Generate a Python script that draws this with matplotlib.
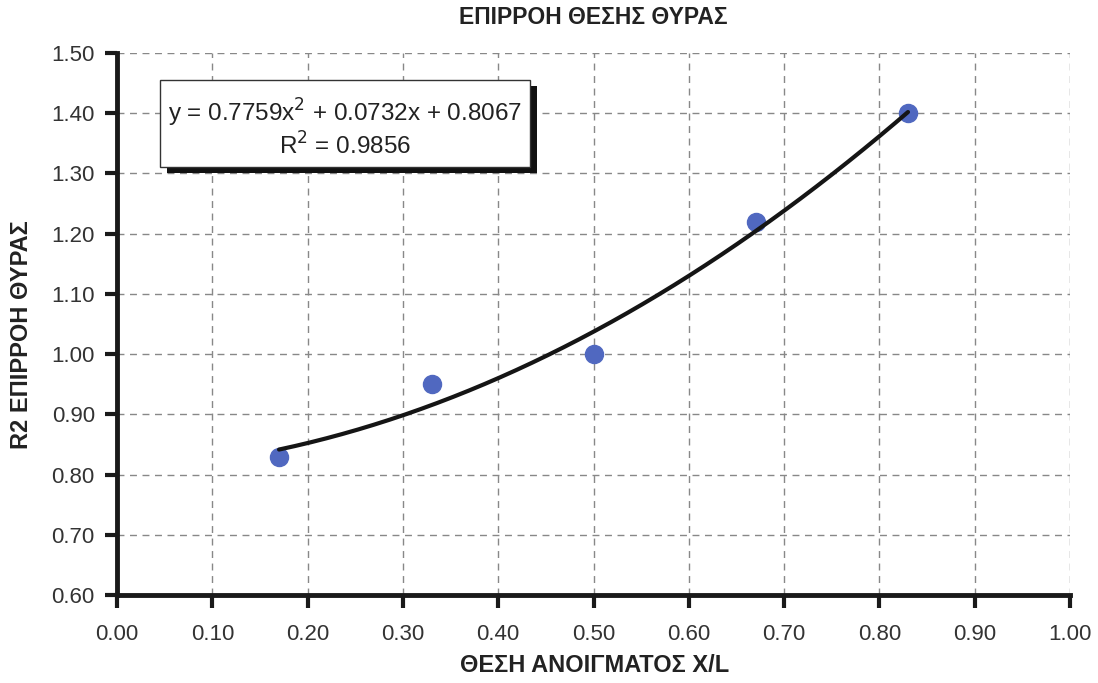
import numpy as np
import matplotlib
matplotlib.use("Agg")
import matplotlib.pyplot as plt
from matplotlib.patches import Rectangle

plt.rcParams['font.family'] = ['Liberation Sans', 'DejaVu Sans']

# Measured points
x_pos = [0.17, 0.33, 0.50, 0.67, 0.83]
r2_vals = [0.83, 0.95, 1.00, 1.22, 1.40]

# Quadratic trend coefficients (a, b, c)
coef = [0.7759, 0.0732, 0.8067]
r_squared = 0.9856

x_ticks = [0.0, 0.1, 0.2, 0.3, 0.4, 0.5, 0.6, 0.7, 0.8, 0.9, 1.0]
y_ticks = [0.6, 0.7, 0.8, 0.9, 1.0, 1.1, 1.2, 1.3, 1.4, 1.5]

title = "ΕΠΙΡΡΟΗ ΘΕΣΗΣ ΘΥΡΑΣ"
xlabel = "ΘΕΣΗ ΑΝΟΙΓΜΑΤΟΣ X/L"
ylabel = "R2 ΕΠΙΡΡΟΗ ΘΥΡΑΣ"

fig = plt.figure(figsize=(10.98, 6.83), dpi=100)
ax = fig.add_axes([0.1066, 0.1288, 0.8679, 0.7936])

ax.set_xlim(0, 1)
ax.set_ylim(0.6, 1.5)
ax.set_xticks(x_ticks)
ax.set_yticks(y_ticks)
ax.set_xticklabels([f"{v:.2f}" for v in x_ticks])
ax.set_yticklabels([f"{v:.2f}" for v in y_ticks])
ax.tick_params(axis='both', labelsize=16, length=9, width=3, direction='out',
               color='#1a1a1a', labelcolor='#333333')
ax.tick_params(axis='x', pad=12)
ax.tick_params(axis='y', pad=7)

ax.grid(True, linestyle=(0, (5, 4)), color='#888888', linewidth=1.0)
ax.set_axisbelow(True)
for s in ['top', 'right']:
    ax.spines[s].set_visible(False)
for s in ['left', 'bottom']:
    ax.spines[s].set_linewidth(3.5)
    ax.spines[s].set_color('#1a1a1a')

# data points
ax.plot(x_pos, r2_vals, 'o', color='#5068c0', markersize=13, zorder=3, clip_on=False)

# trend line
xf = np.linspace(min(x_pos), max(x_pos), 200)
yf = np.polyval(coef, xf)
ax.plot(xf, yf, color='#151515', linewidth=3, zorder=4, solid_capstyle='round')

# equation box with shadow
bx0, by0, bw, bh = 160, 683 - 167, 370, 87
to_fig = lambda px, py: (px / 1098, py / 683)
shadow = Rectangle(to_fig(bx0 + 7, by0 - 6), bw / 1098, bh / 683,
                   transform=fig.transFigure, facecolor='#111111', edgecolor='none', zorder=5)
box = Rectangle(to_fig(bx0, by0), bw / 1098, bh / 683,
                transform=fig.transFigure, facecolor='white', edgecolor='#333333',
                linewidth=1.0, zorder=6)
fig.add_artist(shadow)
fig.add_artist(box)
eq = f"y = {coef[0]:.4f}x$^2$ + {coef[1]:.4f}x + {coef[2]:.4f}"
fig.text((bx0 + bw / 2) / 1098, (683 - 113) / 683, eq, ha='center', va='center',
         fontsize=17.5, color='#222222', zorder=7)
fig.text((bx0 + bw / 2) / 1098, (683 - 146) / 683, f"R$^2$ = {r_squared:.4f}",
         ha='center', va='center', fontsize=17.5, color='#222222', zorder=7)

fig.text(593 / 1098, (683 - 18) / 683, title, ha='center', va='center',
         fontsize=16.5, fontweight='bold', color='#222222')
fig.text(595 / 1098, (683 - 665) / 683, xlabel, ha='center', va='center',
         fontsize=17, fontweight='bold', color='#222222')
fig.text(22 / 1098, (683 - 335) / 683, ylabel, ha='center', va='center',
         rotation=90, fontsize=17, fontweight='bold', color='#222222')

fig.savefig("out.png", dpi=100)
